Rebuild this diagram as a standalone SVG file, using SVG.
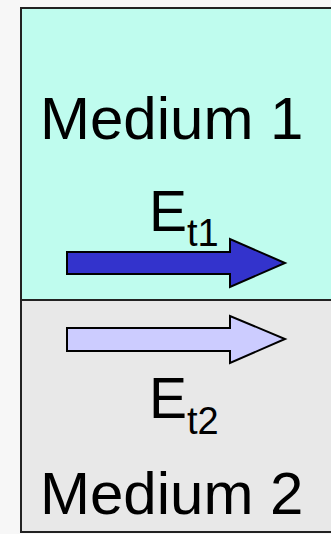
<svg xmlns="http://www.w3.org/2000/svg" width="331" height="534" viewBox="0 0 331 534">
<style>
text{font-family:"Liberation Sans",Arial,sans-serif;fill:#000}
.big{font-size:60px}
.e{font-size:57px}
.sub{font-size:38px}
.arrow{stroke:#000;stroke-width:2;stroke-linejoin:miter}
</style>
<rect width="331" height="534" fill="#f7f7f7"/>
<g id="medium1">
<rect x="21" y="8" width="320" height="292" fill="#bffcee" stroke="#222" stroke-width="2"/>
<text class="big" x="40" y="139">Medium 1</text>
</g>
<g id="medium2">
<rect x="21" y="300" width="320" height="232" fill="#e8e8e8" stroke="#222" stroke-width="2"/>
<text class="big" x="40" y="514">Medium 2</text>
</g>
<g id="et1">
<text x="149" y="231"><tspan class="e">E</tspan><tspan class="sub" dy="15">t1</tspan></text>
<path class="arrow" fill="#3333cc" d="M67,252 H230 V239 L285,263 L230,287 V274 H67 Z"/>
</g>
<g id="et2">
<text x="149" y="418"><tspan class="e">E</tspan><tspan class="sub" dy="16">t2</tspan></text>
<path class="arrow" fill="#ccccff" d="M67,328 H230 V316 L285,339 L230,363 V351 H67 Z"/>
</g>
</svg>
